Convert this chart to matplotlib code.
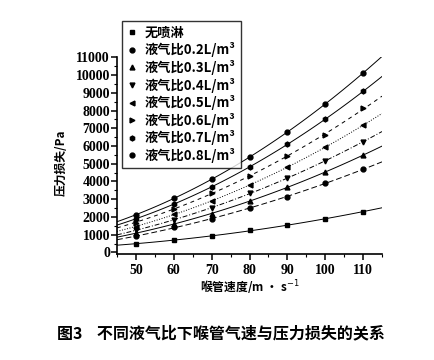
import numpy as np
import matplotlib.pyplot as plt
from matplotlib.ticker import MultipleLocator

plt.rcParams['font.family'] = ['Noto Sans CJK SC', 'DejaVu Sans']

speed = [50, 60, 70, 80, 90, 100, 110]
labels = ['无喷淋', '液气比0.2L/m³', '液气比0.3L/m³', '液气比0.4L/m³',
          '液气比0.5L/m³', '液气比0.6L/m³', '液气比0.7L/m³', '液气比0.8L/m³']
markers = ['s', 'o', '^', 'v', '<', '>', 'h', 'o']
styles = ['-', (0, (6, 3)), '-', (0, (5, 2, 1, 2)), ':', (0, (4, 4)), '-', '-']

# pressure loss / Pa
no_spray = [490, 710, 900, 1255, 1520, 1895, 2305]
r02 = [900, 1428, 1895, 2495, 3150, 3900, 4685]
r03 = [1080, 1620, 2175, 2905, 3675, 4520, 5490]
r04 = [1250, 1850, 2495, 3340, 4180, 5170, 6240]
r05 = [1460, 2150, 2905, 3805, 4800, 5920, 7180]
r06 = [1680, 2470, 3340, 4310, 5450, 6615, 8115]
r07 = [1880, 2750, 3710, 4800, 6095, 7500, 9090]
r08 = [2120, 3057, 4125, 5360, 6800, 8358, 10118]
series = [no_spray, r02, r03, r04, r05, r06, r07, r08]

fig = plt.figure(figsize=(4.34, 3.6), dpi=100)
ax = fig.add_axes([117/434, 1-253.5/360, 265/434, (253.5-57.3)/360])

xs = np.linspace(45, 115, 100)
for vals, m, ls, lab in zip(series, markers, styles, labels):
    c = np.polyfit(speed, vals, 2)
    ax.plot(xs, np.polyval(c, xs), color='black', lw=0.7, linestyle=ls)
    ax.plot(speed, vals, linestyle='None', marker=m, color='black', ms=3.5, label=lab)

ax.set_xlim(45, 115)
ax.set_ylim(-60, 11000)
ax.set_xticks(speed)
ax.set_yticks(range(0, 11001, 1000))
ax.xaxis.set_minor_locator(MultipleLocator(5))
ax.yaxis.set_minor_locator(MultipleLocator(500))
ax.spines['top'].set_visible(False)
ax.spines['right'].set_visible(False)
for s in ['left', 'bottom']:
    ax.spines[s].set_linewidth(1.2)
ax.tick_params(which='major', length=4, width=1.1)
ax.tick_params(which='minor', length=2, width=0.8)
for t in ax.get_xticklabels() + ax.get_yticklabels():
    t.set_family('Liberation Serif')
    t.set_fontweight('bold')
    t.set_fontsize(10)
ax.tick_params(axis='y', pad=1)

ax.set_ylabel('压力损失/Pa', fontsize=8.5, fontweight='bold')
ax.yaxis.set_label_coords(-0.185, 0.46)
ax.set_xlabel('喉管速度/m · s$^{-1}$', fontsize=8.5, fontweight='bold', labelpad=1)

leg = ax.legend(loc='upper left', bbox_to_anchor=(122/434, 1-21/360),
                bbox_transform=fig.transFigure, frameon=True, fancybox=False,
                edgecolor='black', handlelength=0.8,
                handletextpad=0.6, labelspacing=0.2, borderpad=0.35,
                borderaxespad=0, prop={'weight': 'bold', 'size': 9.5})
leg.get_frame().set_linewidth(1.0)

fig.text(57/434, 1-333/360, '图3    不同液气比下喉管气速与压力损失的关系',
         fontsize=11.5, fontweight='bold', va='center', ha='left')

fig.savefig('out.png', dpi=100)
